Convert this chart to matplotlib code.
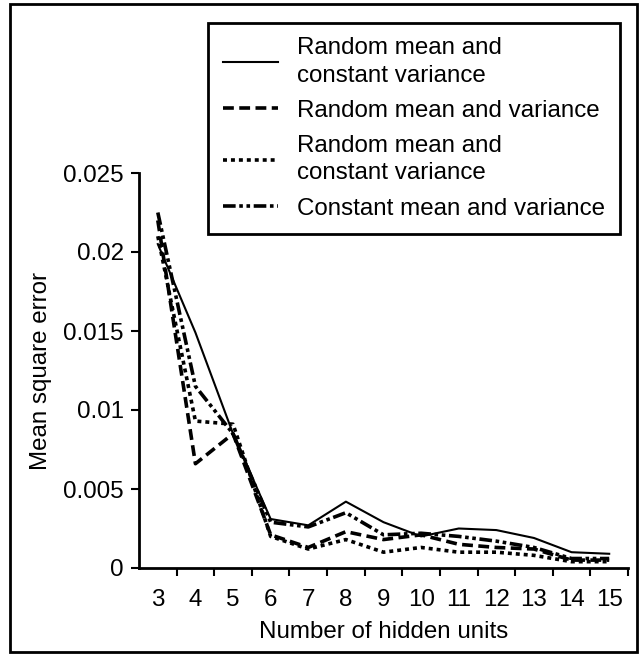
import numpy as np
import matplotlib
matplotlib.use('Agg')
import matplotlib.pyplot as plt
from matplotlib.patches import Rectangle

plt.rcParams['font.family'] = ['Liberation Sans', 'DejaVu Sans']

# Данные
hidden_units = [3, 4, 5, 6, 7, 8, 9, 10, 11, 12, 13, 14, 15]

rm_cv_1 = [0.0205, 0.0149, 0.0085, 0.0031, 0.0027, 0.0042, 0.0029, 0.0020, 0.0025, 0.0024, 0.0019, 0.0010, 0.0009]
rm_rv = [0.0220, 0.0066, 0.0085, 0.0021, 0.0013, 0.0023, 0.0018, 0.0021, 0.0015, 0.0013, 0.0012, 0.0005, 0.0005]
rm_cv_2 = [0.0210, 0.0093, 0.0091, 0.0020, 0.0012, 0.0018, 0.0010, 0.0013, 0.0010, 0.0010, 0.0008, 0.0004, 0.0004]
cm_cv = [0.0225, 0.0115, 0.0085, 0.0029, 0.0026, 0.0035, 0.0021, 0.0022, 0.0020, 0.0017, 0.0013, 0.0006, 0.0006]

labels = ['Random mean and\nconstant variance',
          'Random mean and variance',
          'Random mean and\nconstant variance',
          'Constant mean and variance']

y_ticks = [0, 0.005, 0.01, 0.015, 0.02, 0.025]
y_tick_labels = ['0', '0.005', '0.01', '0.015', '0.02', '0.025']

fs = 17.4

fig = plt.figure(figsize=(6.44, 6.56), dpi=100)
ax = fig.add_axes([139 / 644, 88 / 656, 489 / 644, 395 / 656])

ax.plot(hidden_units, rm_cv_1, color='black', lw=1.5, linestyle='-', label=labels[0])
ax.plot(hidden_units, rm_rv, color='black', lw=2.6, linestyle=(0, (3, 1.5)), label=labels[1])
ax.plot(hidden_units, rm_cv_2, color='black', lw=2.6, linestyle=(0, (1.1, 1.1)), label=labels[2])
ax.plot(hidden_units, cm_cv, color='black', lw=2.6, linestyle=(0, (3.5, 1, 1, 1, 1, 1)), label=labels[3])

ax.set_xlim(2.5, 15.5)
ax.set_ylim(0, 0.025)
ax.set_xticks(hidden_units)
ax.set_xticks(np.arange(3.5, 15.6, 1), minor=True)
ax.tick_params(axis='x', which='major', length=0, pad=15, labelsize=fs)
ax.tick_params(axis='x', which='minor', length=6, width=1.5, direction='out')
ax.set_yticks(y_ticks)
ax.set_yticklabels(y_tick_labels)
ax.tick_params(axis='y', length=6, width=1.5, pad=5, labelsize=fs)

for side in ['top', 'right']:
    ax.spines[side].set_visible(False)
for side in ['left', 'bottom']:
    ax.spines[side].set_linewidth(2)

ax.set_xlabel('Number of hidden units', fontsize=fs, labelpad=7)
ax.set_ylabel('Mean square error', fontsize=fs, labelpad=8)

leg = fig.legend(loc='upper left', bbox_to_anchor=(208 / 644, 1 - 23 / 656),
                 fontsize=fs, handlelength=2.3, handletextpad=0.8,
                 labelspacing=0.55, borderpad=0.6, borderaxespad=0,
                 fancybox=False, framealpha=1, edgecolor='black')
leg.get_frame().set_linewidth(2)
for t in leg.get_texts():
    t.set_linespacing(1.3)

fig.patches.append(Rectangle((10 / 644, 4 / 656), 627 / 644, 648 / 656,
                             transform=fig.transFigure, fill=False,
                             edgecolor='black', linewidth=2))

fig.savefig('out.png', dpi=100)
